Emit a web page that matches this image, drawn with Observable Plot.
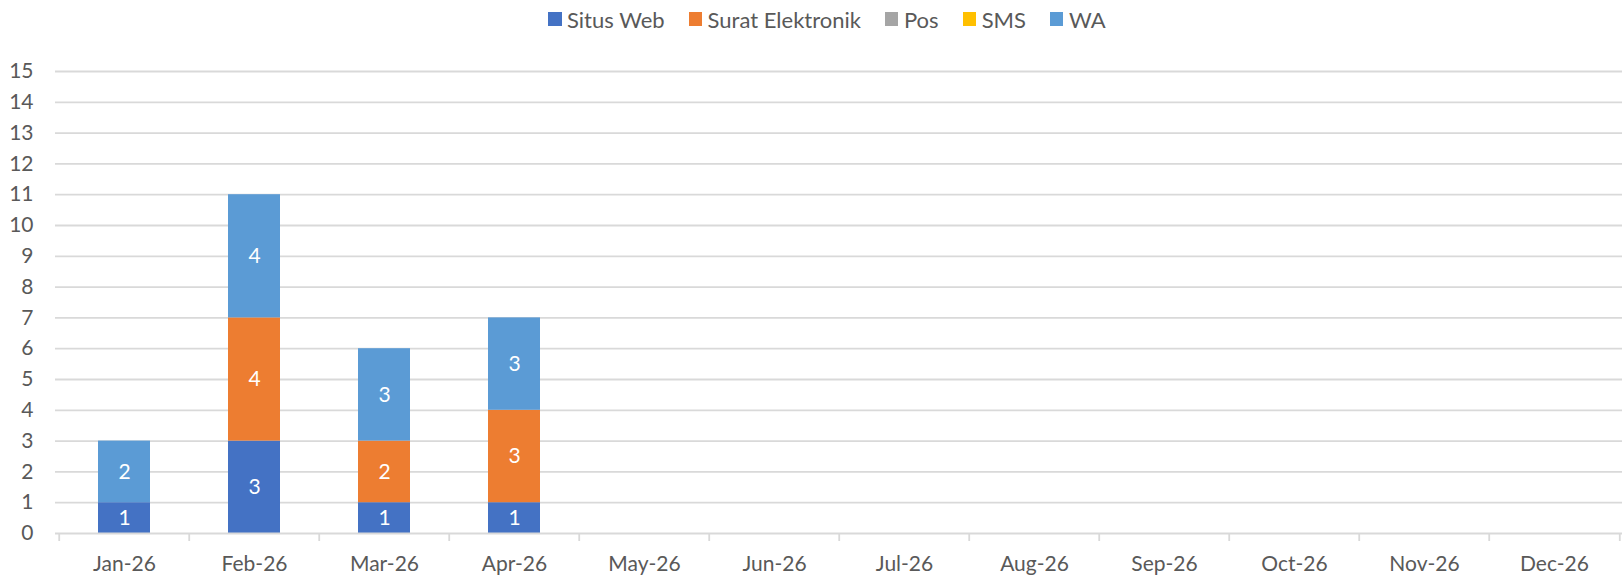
<!DOCTYPE html>
<html><head><meta charset="utf-8">
<script src="https://cdn.jsdelivr.net/npm/d3@7"></script>
<script src="https://cdn.jsdelivr.net/npm/@observablehq/plot@0.6"></script>
<style>
body{margin:0;background:#fff;font-family:Lato,sans-serif;}
#legend{height:38px;display:flex;align-items:center;padding-left:548px;box-sizing:border-box;font-size:22px;color:#595959;white-space:nowrap;}
.item{display:flex;align-items:center;margin-right:24px;}
.sw{width:13.5px;height:13.5px;margin-right:5.5px;display:inline-block;}
</style>
</head><body>
<div id="legend"></div>
<div id="chart"></div>
<script>
const months = ["Jan-26","Feb-26","Mar-26","Apr-26","May-26","Jun-26","Jul-26","Aug-26","Sep-26","Oct-26","Nov-26","Dec-26"];
const series = ["Situs Web","Surat Elektronik","Pos","SMS","WA"];
const colors = ["#4472C4","#ED7D31","#A5A5A5","#FFC000","#5B9BD5"];
const situsWeb        = [1,3,1,1,0,0,0,0,0,0,0,0];
const suratElektronik = [0,4,2,3,0,0,0,0,0,0,0,0];
const pos             = [0,0,0,0,0,0,0,0,0,0,0,0];
const sms             = [0,0,0,0,0,0,0,0,0,0,0,0];
const wa              = [2,4,3,3,0,0,0,0,0,0,0,0];
const yTicks = [0,1,2,3,4,5,6,7,8,9,10,11,12,13,14,15];

const valuesBySeries = [situsWeb, suratElektronik, pos, sms, wa];
const rows = [];
months.forEach((m, i) => series.forEach((s, j) => rows.push({month: m, series: s, value: valuesBySeries[j][i]})));

// legend
const legend = document.getElementById("legend");
series.forEach((s, j) => {
  const it = document.createElement("span"); it.className = "item";
  const sw = document.createElement("span"); sw.className = "sw"; sw.style.background = colors[j];
  const tx = document.createElement("span"); tx.textContent = s;
  it.appendChild(sw); it.appendChild(tx); legend.appendChild(it);
});

const W = 1624, H = 577 - 38;
const mL = 55, mR = 2, mT = 33, mB = 44;
const step = (W - mL - mR) / months.length;
const grid = "#D9D9D9";

const chart = Plot.plot({
  width: W, height: H,
  marginLeft: mL, marginRight: mR, marginTop: mT, marginBottom: mB,
  style: {fontFamily: "Lato, sans-serif", fontSize: "21px", color: "#595959", background: "#fff"},
  x: {domain: months, paddingInner: 0.6, paddingOuter: 0.3, label: null},
  y: {domain: [0, 15], label: null},
  color: {domain: series, range: colors},
  marks: [
    Plot.ruleY(yTicks.filter(t => t > 0), {stroke: grid, strokeWidth: 1.8}),
    Plot.barY(rows, Plot.stackY({x: "month", y: "value", fill: "series", order: series})),
    Plot.text(rows.filter(d => d.value > 0), Plot.stackY({x: "month", y: "value", z: "series", text: "value", order: series, fill: "white", fontSize: 21})),
    Plot.ruleY([0], {stroke: grid, strokeWidth: 1.8}),
    Plot.ruleX(months, {x: d => d, y1: 0, y2: 0, dx: -step / 2, insetBottom: -8, stroke: grid, strokeWidth: 1.8}),
    Plot.ruleX([months[months.length - 1]], {x: d => d, y1: 0, y2: 0, dx: step / 2, insetBottom: -8, stroke: grid, strokeWidth: 1.8}),
    Plot.axisY({ticks: yTicks, tickSize: 0, tickPadding: 22, tickFormat: d => String(d), label: null}),
    Plot.axisX({tickSize: 0, tickPadding: 23, label: null})
  ]
});
document.getElementById("chart").appendChild(chart);
</script>
</body></html>
